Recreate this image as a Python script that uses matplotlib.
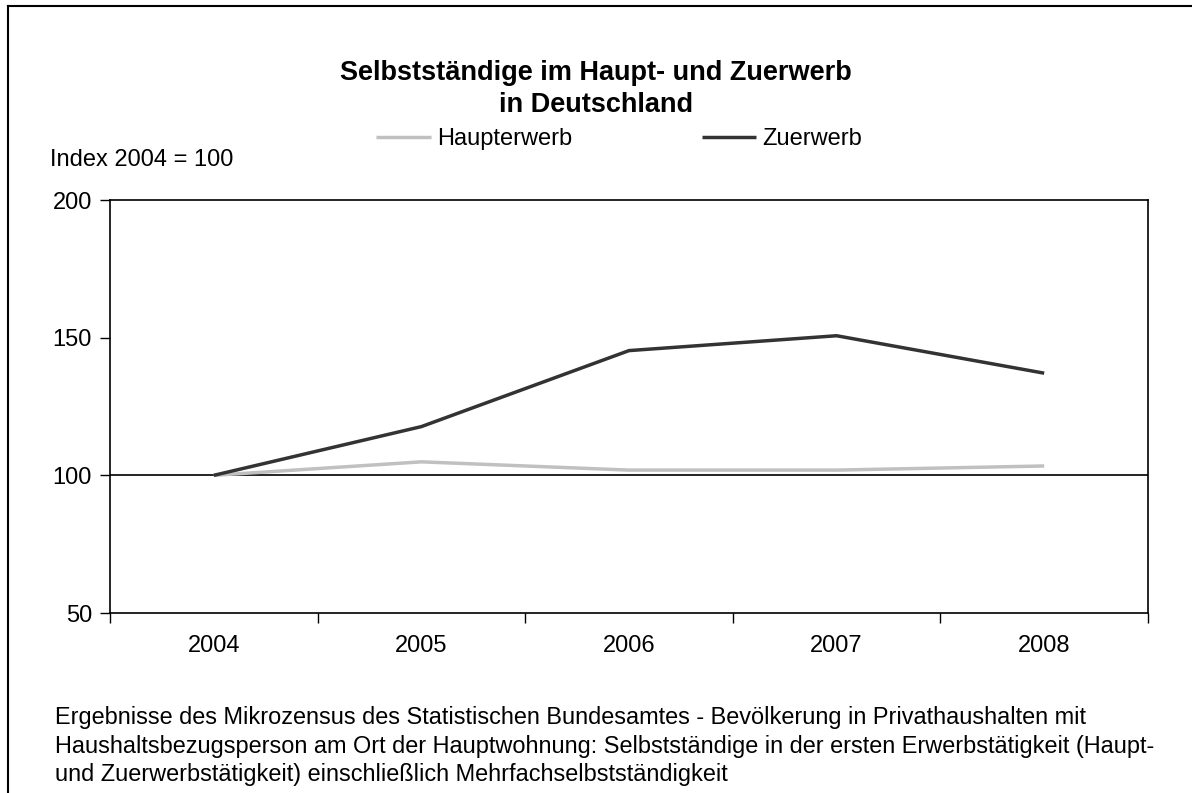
import numpy as np
import matplotlib
matplotlib.use('Agg')
import matplotlib.pyplot as plt
from matplotlib.lines import Line2D

plt.rcParams['font.family'] = ['Liberation Sans', 'DejaVu Sans']

jahre = ['2004', '2005', '2006', '2007', '2008']
haupterwerb = [100.0, 104.9, 101.9, 101.9, 103.4]
zuerwerb = [100.0, 117.7, 145.3, 150.7, 137.1]
yticks = [50, 100, 150, 200]

titel = 'Selbstständige im Haupt- und Zuerwerb\nin Deutschland'
fussnote = ('Ergebnisse des Mikrozensus des Statistischen Bundesamtes - Bevölkerung in Privathaushalten mit\n'
            'Haushaltsbezugsperson am Ort der Hauptwohnung: Selbstständige in der ersten Erwerbstätigkeit (Haupt-\n'
            'und Zuerwerbstätigkeit) einschließlich Mehrfachselbstständigkeit')

fig = plt.figure(figsize=(11.92, 7.93), dpi=100)
ax = fig.add_axes([110/1192, 1-613/793, (1148-110)/1192, (613-200)/793])

x = np.arange(len(jahre))
ax.plot(x, haupterwerb, color='#c0c0c0', lw=2.5, label='Haupterwerb', solid_capstyle='butt')
ax.plot(x, zuerwerb, color='#333333', lw=2.5, label='Zuerwerb', solid_capstyle='butt')
ax.axhline(100, color='black', lw=1.2, zorder=1)

ax.set_xlim(-0.5, len(jahre)-0.5)
ax.set_ylim(50, 200)
ax.set_yticks(yticks)
ax.set_yticklabels([str(v) for v in yticks], fontsize=17)
ax.set_xticks(np.arange(len(jahre)+1)-0.5)
ax.set_xticklabels([])
ax.set_xticks(x, minor=True)
ax.set_xticklabels(jahre, minor=True, fontsize=17)
ax.tick_params(axis='x', which='major', length=7, width=1, direction='out')
ax.tick_params(axis='x', which='minor', length=0, pad=16)
ax.tick_params(axis='y', length=7, width=1, direction='out', pad=6)
for s in ax.spines.values():
    s.set_linewidth(1.2)

fig.text(0.5, 1-89/793, titel, ha='center', va='center', fontsize=19.5, fontweight='bold', linespacing=1.3)
fig.text(50/1192, 1-160/793, 'Index 2004 = 100', ha='left', va='center', fontsize=17)

ax.legend(loc='center', bbox_to_anchor=(619/1192, 1-139/793), bbox_transform=fig.transFigure,
          ncol=2, frameon=False, fontsize=17, handlelength=2.3, handletextpad=0.25,
          columnspacing=5.5)

fig.text(55/1192, 1-746/793, fussnote, ha='left', va='center', fontsize=16.9, linespacing=1.3)

# Rahmen oben und links
fig.add_artist(Line2D([8/1192, 1], [1-6/793, 1-6/793], color='black', lw=1.5, transform=fig.transFigure))
fig.add_artist(Line2D([8/1192, 8/1192], [0, 1-6/793], color='black', lw=1.5, transform=fig.transFigure))

fig.savefig('out.png', dpi=100)
